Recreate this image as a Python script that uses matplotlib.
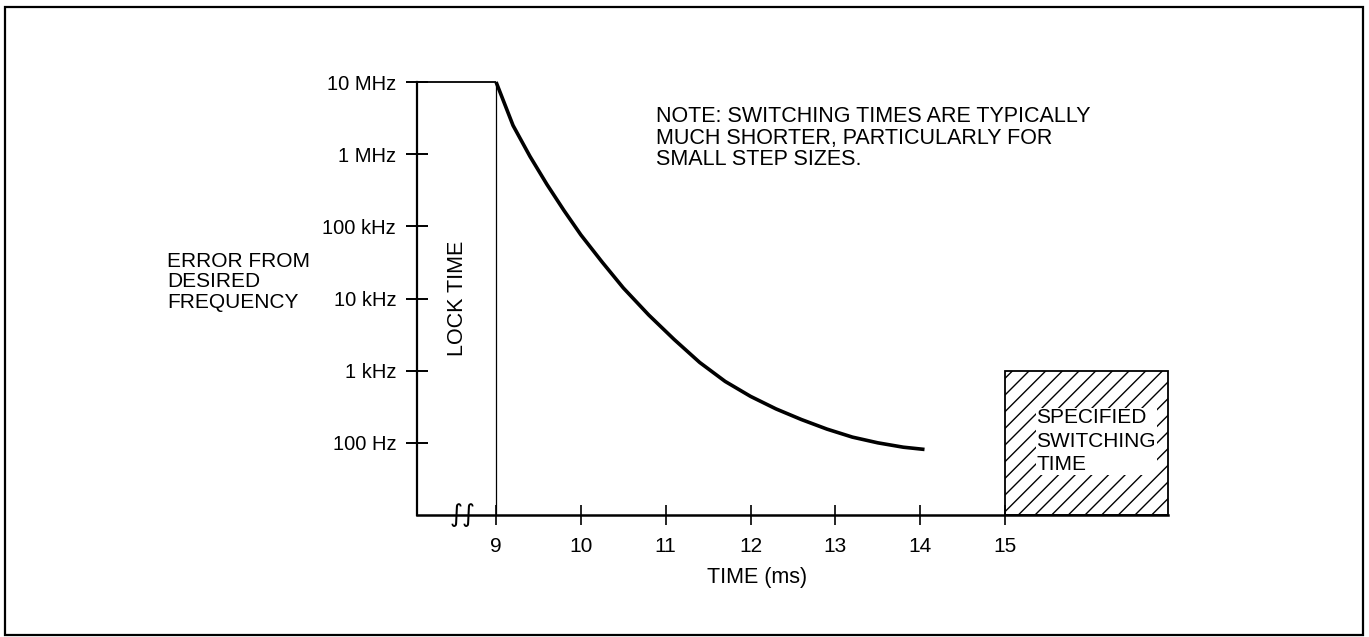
import matplotlib
matplotlib.use("Agg")
import matplotlib.pyplot as plt
from matplotlib.patches import Rectangle
import matplotlib.transforms as mtransforms

# ---- data ----
time_ms = [9.0, 9.2, 9.4, 9.6, 9.8, 10.0, 10.25, 10.5, 10.8, 11.1, 11.4, 11.7,
           12.0, 12.3, 12.6, 12.9, 13.2, 13.5, 13.8, 14.05]
error_hz = [1.0e7, 2.5e6, 9.3e5, 3.8e5, 1.66e5, 7.6e4, 3.2e4, 1.4e4, 5.9e3, 2.7e3,
            1.3e3, 710, 440, 295, 210, 155, 120, 100, 87, 81]

y_ticks = [1e7, 1e6, 1e5, 1e4, 1e3, 1e2]
y_tick_labels = ["10 MHz", "1 MHz", "100 kHz", "10 kHz", "1 kHz", "100 Hz"]
x_ticks = [9, 10, 11, 12, 13, 14, 15]
x_tick_labels = ["9", "10", "11", "12", "13", "14", "15"]

lock_time_end = 9.0
spec_start = 15.0
spec_top = 1e3
note = "NOTE: SWITCHING TIMES ARE TYPICALLY\nMUCH SHORTER, PARTICULARLY FOR\nSMALL STEP SIZES."

FONT = ["Liberation Sans Narrow", "Liberation Sans", "DejaVu Sans"]
plt.rcParams["font.family"] = FONT
plt.rcParams["hatch.linewidth"] = 1.0

W, H = 1369, 637
fig = plt.figure(figsize=(W / 100, H / 100), dpi=100)
fig.patch.set_facecolor("white")

# figure border
fig.patches.append(Rectangle((5 / W, 2 / H), (1363 - 5) / W, (630 - 2) / H,
                             transform=fig.transFigure, fill=False,
                             edgecolor="black", linewidth=1.6))

left_px, right_px, top_px, bot_px = 417, 1168, 82, 515
ax = fig.add_axes([left_px / W, 1 - bot_px / H, (right_px - left_px) / W,
                   (bot_px - top_px) / H])
ax.set_yscale("log")
ax.set_xlim(8.068, 16.92)
ax.set_ylim(10, 1e7)
ax.patch.set_alpha(0)

for s in ["top", "right"]:
    ax.spines[s].set_visible(False)
ax.spines["left"].set_linewidth(1.6)
ax.spines["bottom"].set_linewidth(1.8)

ax.set_yticks(y_ticks)
ax.set_yticklabels(y_tick_labels)
ax.yaxis.set_minor_locator(plt.NullLocator())
ax.set_xticks(x_ticks)
ax.set_xticklabels(x_tick_labels)
ax.tick_params(axis="y", direction="inout", length=16, width=1.4, pad=7,
               labelsize=14.5)
ax.tick_params(axis="x", direction="inout", length=14, width=1.2, pad=9,
               labelsize=15)

# lock time box
ax.plot([8.068, lock_time_end], [1e7, 1e7], color="black", lw=1.3,
        clip_on=False, solid_capstyle="butt")
ax.plot([lock_time_end, lock_time_end], [10, 1e7], color="black", lw=0.9,
        clip_on=False)
ax.text(8.54, 1e4, "LOCK TIME", rotation=90, ha="center", va="center",
        fontsize=15.5)

# curve
ax.plot(time_ms, error_hz, color="black", lw=2.6, solid_capstyle="butt",
        clip_on=False)

# specified switching time
ax.add_patch(Rectangle((spec_start, 10), 16.92 - spec_start, spec_top - 10,
                       facecolor="white", edgecolor="black", hatch="//",
                       linewidth=1.3, clip_on=False))
ax.text(15.37, 10 ** 2.02, "SPECIFIED\nSWITCHING\nTIME", ha="left",
        va="center", fontsize=15, linespacing=1.3,
        bbox=dict(facecolor="white", edgecolor="none", pad=0.5))

# note
ax.text(10.88, 10 ** 6.67, note, ha="left", va="top", fontsize=15.5,
        linespacing=1.05)

# axis break marks
trans = mtransforms.blended_transform_factory(ax.transData, ax.transAxes)
ax.text(8.6, 0.0, "\u222B\u222B", transform=trans, ha="center", va="center",
        fontsize=18, family=["DejaVu Sans"])

# labels
fig.text(757 / W, 1 - 578 / H, "TIME (ms)", ha="center", va="center",
         fontsize=15.5)
fig.text(167 / W, 1 - 252 / H, "ERROR FROM\nDESIRED\nFREQUENCY", ha="left",
         va="top", fontsize=15, linespacing=1.1)

fig.savefig("out.png", dpi=100, facecolor="white")
